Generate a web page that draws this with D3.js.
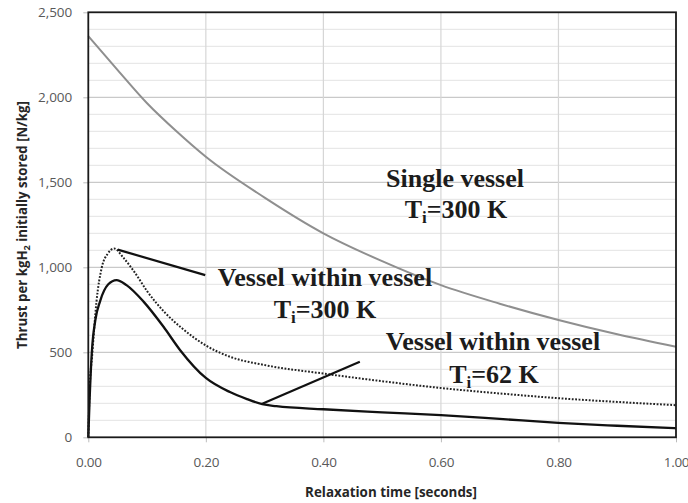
<!DOCTYPE html>
<html>
<head>
<meta charset="utf-8">
<script src="https://cdn.jsdelivr.net/npm/d3@7"></script>
<style>
  html, body { margin: 0; padding: 0; background: #fff; }
  svg { display: block; }
</style>
</head>
<body>
<svg id="chart" width="688" height="503"></svg>
<script>
// ---- Data ----
const xTicks = [0, 0.2, 0.4, 0.6, 0.8, 1.0];
const yTicks = [0, 500, 1000, 1500, 2000, 2500];

// Single vessel, Ti = 300 K
const singleT = [0, 0.05, 0.1, 0.15, 0.2, 0.3, 0.4, 0.5, 0.6, 0.7, 0.8, 0.9, 1.0];
const singleV = [2360, 2160, 1965, 1800, 1650, 1410, 1200, 1036, 895, 786, 690, 606, 533];

// Vessel within vessel, Ti = 300 K (dotted)
const vv300T = [0, 0.002, 0.007, 0.014, 0.023, 0.033, 0.044, 0.06, 0.08, 0.1, 0.13, 0.16, 0.2, 0.24, 0.3, 0.4, 0.5, 0.6, 0.7, 0.8, 0.9, 1.0];
const vv300V = [0, 250, 500, 800, 1000, 1080, 1110, 1055, 965, 860, 735, 640, 540, 475, 425, 375, 330, 290, 258, 230, 208, 189];

// Vessel within vessel, Ti = 62 K (solid)
const vv62T = [0, 0.002, 0.006, 0.012, 0.02, 0.034, 0.048, 0.065, 0.094, 0.128, 0.156, 0.2, 0.241, 0.27, 0.296, 0.32, 0.4, 0.5, 0.6, 0.7, 0.8, 0.9, 1.0];
const vv62V = [0, 200, 500, 690, 800, 900, 925, 895, 798, 650, 514, 349, 266, 225, 195, 183, 165, 147, 130, 108, 85, 68, 53];

// Annotation leader lines (data coordinates)
const leader300 = [[0.05, 1104], [0.199, 954]];
const leader62 = [[0.295, 196], [0.462, 445]];

// ---- Layout ----
const svg = d3.select("#chart");
const X0 = 88.3, X1 = 676, Y0 = 437.3, Y1 = 12.3;
const x = d3.scaleLinear().domain([0, 1]).range([X0, X1]);
const y = d3.scaleLinear().domain([0, 2500]).range([Y0, Y1]);

svg.append("rect").attr("width", 688).attr("height", 503).attr("fill", "#fff");

// Grid
const grid = svg.append("g");
const minor = d3.range(100, 2500, 100).filter(v => v % 500 !== 0);
grid.selectAll(".minor").data(minor).join("line")
  .attr("x1", X0).attr("x2", X1)
  .attr("y1", d => y(d)).attr("y2", d => y(d))
  .attr("stroke", "#e3e3e3").attr("stroke-width", 1);
grid.selectAll(".major").data(yTicks.filter(v => v > 0 && v < 2500)).join("line")
  .attr("x1", X0).attr("x2", X1)
  .attr("y1", d => y(d)).attr("y2", d => y(d))
  .attr("stroke", "#bcbcbc").attr("stroke-width", 1);
grid.selectAll(".vert").data(xTicks.filter(v => v > 0 && v < 1)).join("line")
  .attr("x1", d => x(d)).attr("x2", d => x(d))
  .attr("y1", Y1).attr("y2", Y0)
  .attr("stroke", "#d6d6d6").attr("stroke-width", 1.2);

// Axes
const yAxis = svg.append("g").attr("transform", `translate(${X0},0)`)
  .call(d3.axisLeft(y).tickValues(yTicks).tickFormat(d3.format(",")).tickSize(5).tickPadding(11));
const xAxis = svg.append("g").attr("transform", `translate(0,${Y0})`)
  .call(d3.axisBottom(x).tickValues(xTicks).tickFormat(d3.format(".2f")).tickSize(5).tickPadding(15.5));
[yAxis, xAxis].forEach(a => {
  a.select(".domain").remove();
  a.selectAll(".tick line").attr("stroke", "#bcbcbc");
  a.selectAll(".tick text").attr("fill", "#595959")
    .style("font-family", "'Open Sans', sans-serif").style("font-size", "13.5px");
});
xAxis.selectAll(".tick text").style("letter-spacing", "-0.3px");

// Curves
const line = d3.line().x(d => x(d[0])).y(d => y(d[1])).curve(d3.curveMonotoneX);
const zip = (a, b) => a.map((t, i) => [t, b[i]]);

svg.append("path").datum(zip(singleT, singleV)).attr("d", line)
  .attr("fill", "none").attr("stroke", "#8f8f8f").attr("stroke-width", 2);
svg.append("path").datum(zip(vv300T, vv300V)).attr("d", line)
  .attr("fill", "none").attr("stroke", "#222").attr("stroke-width", 2)
  .attr("stroke-dasharray", "1.8,1.6");
svg.append("path").datum(zip(vv62T, vv62V)).attr("d", line)
  .attr("fill", "none").attr("stroke", "#111").attr("stroke-width", 2.3);

// Frame
svg.append("rect").attr("x", X0).attr("y", Y1).attr("width", X1 - X0).attr("height", Y0 - Y1)
  .attr("fill", "none").attr("stroke", "#1a1a1a").attr("stroke-width", 1.8);

// Leader lines
const straight = d3.line().x(d => x(d[0])).y(d => y(d[1]));
[leader300, leader62].forEach(l => {
  svg.append("path").attr("d", straight(l)).attr("fill", "none")
    .attr("stroke", "#111").attr("stroke-width", 2.2);
});

// Annotation texts
const serif = "'Liberation Serif', 'Times New Roman', serif";
function label(cx, baseline, main) {
  svg.append("text").attr("x", cx).attr("y", baseline).attr("text-anchor", "middle")
    .style("font-family", serif).style("font-weight", "bold").style("font-size", "26px")
    .attr("fill", "#1c1c1c").text(main);
}
function tLabel(cx, baseline, rest) {
  const t = svg.append("text").attr("x", cx).attr("y", baseline).attr("text-anchor", "middle")
    .style("font-family", serif).style("font-weight", "bold").style("font-size", "26px")
    .attr("fill", "#1c1c1c");
  t.append("tspan").text("T");
  t.append("tspan").attr("dy", 5).style("font-size", "17px").text("i");
  t.append("tspan").attr("dy", -5).text(rest);
}
label(455, 187, "Single vessel");
tLabel(456, 218, "=300 K");
label(325, 286, "Vessel within vessel");
tLabel(325, 318, "=300 K");
label(493, 350, "Vessel within vessel");
tLabel(494, 383, "=62 K");

// Axis titles
const sans = "'Open Sans', sans-serif";
function fit(sel, target) {
  const w = sel.node().getComputedTextLength();
  const fs = parseFloat(sel.style("font-size"));
  sel.style("font-size", (fs * target / w) + "px");
}
const xt = svg.append("text").attr("x", 391).attr("y", 497).attr("text-anchor", "middle")
  .style("font-family", sans).style("font-weight", "bold").style("font-size", "12px")
  .attr("fill", "#262626").text("Relaxation time [seconds]");
fit(xt, 172);

const yt = svg.append("text").attr("transform", "translate(27,225) rotate(-90)")
  .attr("text-anchor", "middle")
  .style("font-family", sans).style("font-weight", "bold").style("font-size", "12px")
  .attr("fill", "#262626");
yt.append("tspan").text("Thrust per kgH");
yt.append("tspan").attr("dy", 3).style("font-size", "0.7em").text("2");
yt.append("tspan").attr("dy", -3).text(" initially stored [N/kg]");
fit(yt, 248);
</script>
</body>
</html>
